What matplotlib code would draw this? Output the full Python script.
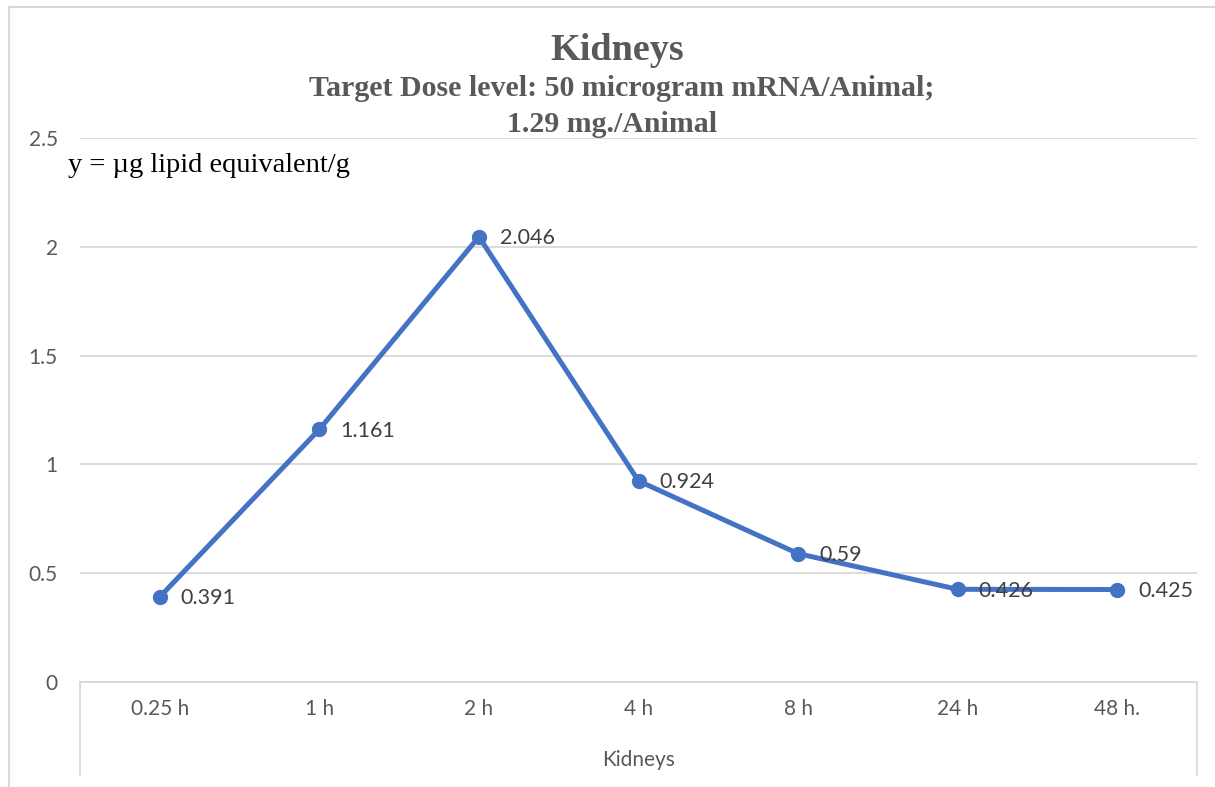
import matplotlib.pyplot as plt
from matplotlib.lines import Line2D

# Data
times = ["0.25 h", "1 h", "2 h", "4 h", "8 h", "24 h", "48 h."]
values = [0.391, 1.161, 2.046, 0.924, 0.59, 0.426, 0.425]
labels = ["0.391", "1.161", "2.046", "0.924", "0.59", "0.426", "0.425"]
yticks = [0, 0.5, 1, 1.5, 2, 2.5]
ytick_labels = ["0", "0.5", "1", "1.5", "2", "2.5"]

W, H = 1215, 787
fig = plt.figure(figsize=(W / 100, H / 100), dpi=100)
ax = fig.add_axes([80 / W, 1 - 682 / H, (1197 - 80) / W, (682 - 138) / H])

grid_col = "#D9D9D9"
text_col = "#595959"
sans = ["Lato", "DejaVu Sans"]
serif = ["Liberation Serif", "DejaVu Serif"]

x = list(range(len(times)))
ax.plot(x, values, color="#4472C4", lw=3.6, marker="o", ms=10, zorder=3)
for xi, v, lab in zip(x, values, labels):
    ax.annotate(lab, (xi, v), xytext=(15, -1), textcoords="offset points",
                va="center", ha="left", fontsize=15.5, color="#404040", family=sans)

ax.set_xlim(-0.5, len(times) - 0.5)
ax.set_ylim(0, 2.5)
ax.set_yticks(yticks)
ax.set_yticklabels(ytick_labels, family=sans, fontsize=15, color=text_col)
ax.set_xticks(x)
ax.set_xticklabels(times, family=sans, fontsize=15, color=text_col)
ax.tick_params(axis="y", length=0, pad=16)
ax.tick_params(axis="x", length=0, pad=12)
ax.grid(axis="y", color=grid_col, lw=1.3)
ax.set_axisbelow(True)
for s in ["top", "right", "left"]:
    ax.spines[s].set_visible(False)
ax.spines["bottom"].set_color(grid_col)
ax.spines["bottom"].set_linewidth(1.3)

# Category box edges below the axis
for xx in [0, 1]:
    ax.add_line(Line2D([xx, xx], [0, -93 / 544], transform=ax.transAxes,
                       color=grid_col, lw=1.3, clip_on=False))

ax.text(0.5, -78 / 544, "Kidneys", transform=ax.transAxes, ha="center", va="center",
        family=sans, fontsize=15, color=text_col)

# Titles
fig.text(617 / W, 1 - 50 / H, "Kidneys", ha="center", va="center",
         family=serif, fontweight="bold", fontsize=27.5, color=text_col)
fig.text(622 / W, 1 - 89 / H, "Target Dose level: 50 microgram mRNA/Animal;", ha="center",
         va="center", family=serif, fontweight="bold", fontsize=21.5, color=text_col)
fig.text(612 / W, 1 - 124 / H, "1.29 mg./Animal", ha="center", va="center",
         family=serif, fontweight="bold", fontsize=21.5, color=text_col)
fig.text(68 / W, 1 - 165 / H, "y = \u00b5g lipid equivalent/g", ha="left", va="center",
         family=serif, fontsize=20.5, color="black")

# Chart border (top and left visible)
fig.add_artist(Line2D([9 / W, 1], [1 - 7 / H, 1 - 7 / H], transform=fig.transFigure,
                      color=grid_col, lw=1.5))
fig.add_artist(Line2D([9 / W, 9 / W], [0, 1 - 7 / H], transform=fig.transFigure,
                      color=grid_col, lw=1.5))

fig.savefig("out.png", dpi=100)
